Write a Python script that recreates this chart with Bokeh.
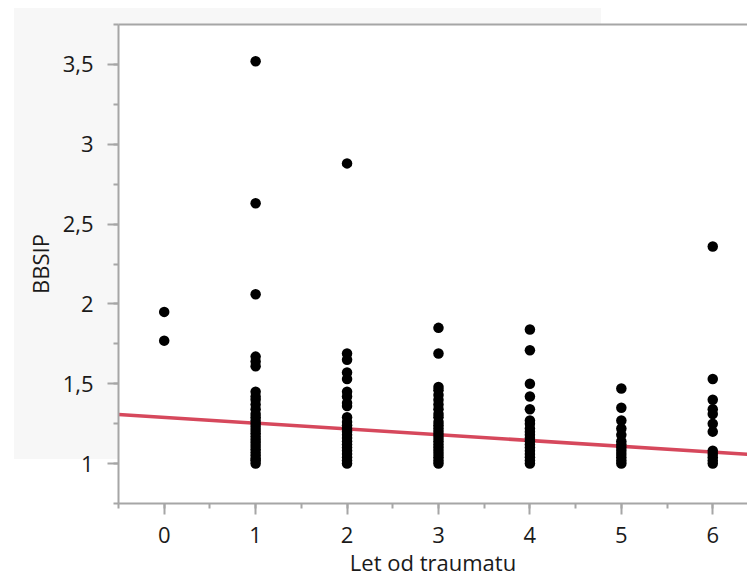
from bokeh.plotting import figure
from bokeh.models import (ColumnDataSource, Range1d, LinearAxis, FixedTicker,
                          SingleIntervalTicker)
from bokeh.embed import file_html
from bokeh.resources import INLINE

# ---- data ----
years_0 = [1.95, 1.77]
years_1 = [3.52, 2.63, 2.06, 1.67, 1.64, 1.61, 1.45, 1.42, 1.40, 1.37, 1.34,
           1.31, 1.29, 1.27, 1.25, 1.23, 1.21, 1.19, 1.17, 1.15, 1.13, 1.11,
           1.09, 1.07, 1.05, 1.03, 1.02, 1.00]
years_2 = [2.88, 1.69, 1.65, 1.57, 1.53, 1.45, 1.42, 1.38, 1.36, 1.29, 1.26,
           1.24, 1.22, 1.20, 1.18, 1.16, 1.14, 1.12, 1.10, 1.08, 1.06, 1.04,
           1.02, 1.00]
years_3 = [1.85, 1.69, 1.48, 1.46, 1.43, 1.40, 1.37, 1.34, 1.31, 1.29, 1.26,
           1.24, 1.22, 1.20, 1.18, 1.16, 1.14, 1.12, 1.10, 1.08, 1.06, 1.04,
           1.02, 1.00]
years_4 = [1.84, 1.71, 1.50, 1.42, 1.34, 1.27, 1.25, 1.22, 1.20, 1.18, 1.16,
           1.14, 1.12, 1.10, 1.08, 1.06, 1.04, 1.02, 1.00]
years_5 = [1.47, 1.35, 1.27, 1.22, 1.18, 1.14, 1.12, 1.10, 1.08, 1.06, 1.04,
           1.02, 1.00]
years_6 = [2.36, 1.53, 1.40, 1.34, 1.31, 1.25, 1.20, 1.08, 1.06, 1.04, 1.02,
           1.00]
groups = [0, 1, 2, 3, 4, 5, 6]
fit_x = [-0.5, 6.38]
fit_y = [1.308, 1.058]
x_title = "Let od traumatu"
y_title = "BBSIP"

columns = [years_0, years_1, years_2, years_3, years_4, years_5, years_6]
xs, ys = [], []
for g, vals in zip(groups, columns):
    xs += [g] * len(vals)
    ys += vals
src = ColumnDataSource(dict(x=xs, y=ys))

FONT = "Open Sans"
AXIS_COLOR = "#a6a6a6"
TEXT_COLOR = "#1a1a1a"

xr = Range1d(-0.5, 6.38)
yr = Range1d(0.75, 3.75)
p = figure(width=747, height=579, output_backend="svg", toolbar_location=None,
           x_range=xr, y_range=yr,
           min_border_left=118, min_border_right=0, min_border_top=24,
           min_border_bottom=75)
p.outline_line_color = None
p.background_fill_color = "white"
p.border_fill_color = None
# light grey panel behind the chart (shows through the transparent border)
p.styles = {"background": "linear-gradient(#f7f7f7, #f7f7f7) 14px 8px / 587px 451px no-repeat, white"}
p.grid.visible = False

p.line(fit_x, fit_y, line_color="#d6485c", line_width=3.5)
p.scatter("x", "y", source=src, size=10.5, fill_color="black", line_color=None)

for ax in (p.xaxis[0], p.yaxis[0]):
    ax.axis_line_color = AXIS_COLOR
    ax.axis_line_width = 2
    ax.major_tick_line_color = AXIS_COLOR
    ax.major_tick_line_width = 2
    ax.minor_tick_line_color = AXIS_COLOR
    ax.minor_tick_line_width = 2
    ax.major_tick_in = 0
    ax.major_tick_out = 11
    ax.minor_tick_in = 0
    ax.minor_tick_out = 5
    ax.major_label_text_font = FONT
    ax.major_label_text_font_size = "22px"
    ax.major_label_text_color = TEXT_COLOR
    ax.axis_label_text_font = FONT
    ax.axis_label_text_font_size = "22px"
    ax.axis_label_text_font_style = "normal"
    ax.axis_label_text_color = TEXT_COLOR

p.xaxis[0].ticker = SingleIntervalTicker(interval=1, num_minor_ticks=2)
p.yaxis[0].ticker = SingleIntervalTicker(interval=0.5, num_minor_ticks=2)
p.xaxis[0].axis_label = x_title
p.yaxis[0].axis_label = y_title
p.xaxis[0].major_label_standoff = 12
p.xaxis[0].axis_label_standoff = 1
p.yaxis[0].major_label_standoff = 14
p.yaxis[0].axis_label_standoff = 5
p.yaxis[0].major_label_overrides = {0.5: "0,5", 1: "1", 1.5: "1,5", 2: "2",
                                    2.5: "2,5", 3: "3", 3.5: "3,5"}

top = LinearAxis(ticker=FixedTicker(ticks=[]), axis_line_color=AXIS_COLOR,
                 axis_line_width=2, major_tick_line_color=None,
                 minor_tick_line_color=None, major_label_text_font_size="0px")
p.add_layout(top, "above")

open("out.html", "w").write(file_html(p, INLINE))
